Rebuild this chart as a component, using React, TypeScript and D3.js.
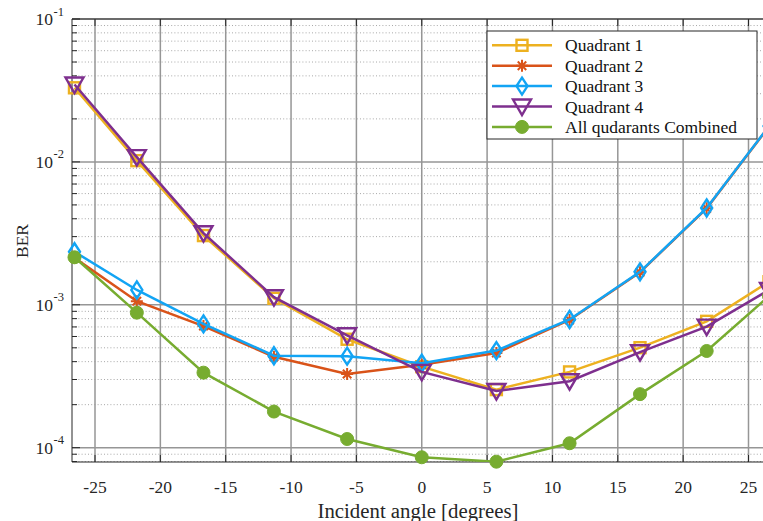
import React from "react";
import * as d3 from "d3";

const angles = [-26.57, -21.8, -16.7, -11.31, -5.71, 0, 5.71, 11.31, 16.7, 21.8, 26.57];
const quadrant1 = [0.033, 0.0102, 0.00305, 0.00111, 0.000574, 0.000369, 0.000255, 0.000339, 0.000501, 0.000766, 0.00145];
const quadrant2 = [0.00213, 0.00106, 0.00071, 0.000433, 0.000328, 0.00038, 0.00046, 0.000783, 0.00169, 0.00473, 0.0177];
const quadrant3 = [0.00235, 0.00127, 0.000735, 0.00044, 0.000437, 0.00039, 0.000478, 0.00079, 0.0017, 0.00476, 0.0178];
const quadrant4 = [0.0348, 0.0108, 0.00317, 0.00113, 0.000612, 0.000339, 0.000249, 0.000292, 0.000466, 0.000703, 0.00127];
const combined = [0.00215, 0.000881, 0.000335, 0.000179, 0.000115, 0.0000857, 0.0000798, 0.0001074, 0.000237, 0.000475, 0.00115];

const xTicks = [-25, -20, -15, -10, -5, 0, 5, 10, 15, 20, 25];
const yDecades = [-4, -3, -2, -1];

const seriesNames = ["Quadrant 1", "Quadrant 2", "Quadrant 3", "Quadrant 4", "All qudarants Combined"];
const seriesColors = ["#EDB120", "#D95319", "#12A4F4", "#7E2F8E", "#77AC30"];
const seriesMarkers = ["square", "asterisk", "diamond", "triangle", "circle"];

const W = 763, H = 521;
const L = 72, T = 19, B = 462, R = 771.5;
const FONT = "'Liberation Serif', 'DejaVu Serif', serif";

function Marker({ kind, x, y, color }: { kind: string; x: number; y: number; color: string }) {
  const sw = 2.4;
  if (kind === "square") {
    return <rect x={x - 5.5} y={y - 5.5} width={11} height={11} fill="none" stroke={color} strokeWidth={sw} />;
  }
  if (kind === "diamond") {
    return <path d={`M${x},${y - 8.5}L${x + 5.5},${y}L${x},${y + 8.5}L${x - 5.5},${y}Z`} fill="none" stroke={color} strokeWidth={sw} />;
  }
  if (kind === "triangle") {
    return <path d={`M${x - 9},${y - 7}L${x + 9},${y - 7}L${x},${y + 8.5}Z`} fill="none" stroke={color} strokeWidth={sw} strokeLinejoin="miter" />;
  }
  if (kind === "circle") {
    return <circle cx={x} cy={y} r={6.5} fill={color} stroke={color} strokeWidth={1} />;
  }
  const r = 6;
  const d = r * 0.707;
  return (
    <path
      d={`M${x - r},${y}L${x + r},${y}M${x},${y - r}L${x},${y + r}M${x - d},${y - d}L${x + d},${y + d}M${x - d},${y + d}L${x + d},${y - d}`}
      stroke={color}
      strokeWidth={2}
      fill="none"
    />
  );
}

export default function App() {
  const x = d3.scaleLinear().domain([-26.76, 26.76]).range([L, R]);
  const y = d3.scaleLog().domain([7.94e-5, 0.1]).range([B, T]);
  const series = [quadrant1, quadrant2, quadrant3, quadrant4, combined];

  const line = d3
    .line<number>()
    .x((_, i) => x(angles[i]))
    .y((v) => y(v));

  const minorVals: number[] = [];
  for (let e = -5; e <= -2; e++) {
    for (let m = 2; m <= 9; m++) {
      const v = m * Math.pow(10, e);
      if (v > 7.94e-5 && v < 0.1) minorVals.push(v);
    }
  }

  const legX = 487, legY = 31, legW = 270, legH = 108;
  const rowY = (i: number) => 45.3 + i * 20.4;

  return (
    <svg width={W} height={H} style={{ position: "absolute", left: 0, top: 0 }} fontFamily={FONT}>
      <rect x={0} y={0} width={W} height={H} fill="#fff" />
      <defs>
        <clipPath id="plotclip">
          <rect x={L} y={T} width={R - L} height={B - T} />
        </clipPath>
      </defs>
      {minorVals.map((v, i) => (
        <line key={"mg" + i} x1={L} x2={R} y1={y(v)} y2={y(v)} stroke="#a8a8a8" strokeWidth={1} strokeDasharray="1,2.2" />
      ))}
      {yDecades.map((e) => (
        <line key={"yg" + e} x1={L} x2={R} y1={y(Math.pow(10, e))} y2={y(Math.pow(10, e))} stroke="#969696" strokeWidth={1.5} />
      ))}
      {xTicks.map((t) => (
        <line key={"xg" + t} x1={x(t)} x2={x(t)} y1={T} y2={B} stroke="#969696" strokeWidth={1.5} />
      ))}
      <line x1={L} x2={R} y1={T} y2={T} stroke="#262626" strokeWidth={1} />
      <line x1={L} x2={R} y1={B} y2={B} stroke="#262626" strokeWidth={1} />
      <line x1={L} x2={L} y1={T} y2={B} stroke="#262626" strokeWidth={1} />
      {xTicks.map((t) => (
        <g key={"xt" + t}>
          <line x1={x(t)} x2={x(t)} y1={B} y2={B - 7} stroke="#262626" strokeWidth={1} />
          <line x1={x(t)} x2={x(t)} y1={T} y2={T + 7} stroke="#262626" strokeWidth={1} />
          <text x={x(t)} y={493} textAnchor="middle" fontSize={17.5} fill="#262626">
            {t}
          </text>
        </g>
      ))}
      {yDecades.map((e) => (
        <g key={"yt" + e}>
          <line x1={L} x2={L + 8} y1={y(Math.pow(10, e))} y2={y(Math.pow(10, e))} stroke="#262626" strokeWidth={1} />
          <text x={53} y={y(Math.pow(10, e)) + 6} textAnchor="end" fontSize={17.5} fill="#262626">
            10
          </text>
          <text x={53.5} y={y(Math.pow(10, e)) - 3.5} textAnchor="start" fontSize={12.5} fill="#262626">
            {String(e)}
          </text>
        </g>
      ))}
      {minorVals.map((v, i) => (
        <line key={"mt" + i} x1={L} x2={L + 5} y1={y(v)} y2={y(v)} stroke="#262626" strokeWidth={1} />
      ))}
      <text x={418} y={518} textAnchor="middle" fontSize={20.8} fill="#262626">
        Incident angle [degrees]
      </text>
      <text transform={`translate(28,241) rotate(-90)`} textAnchor="middle" fontSize={17.5} fill="#262626">
        BER
      </text>
      {series.map((s, si) => (
        <g key={"s" + si}>
          <path d={line(s) || ""} fill="none" stroke={seriesColors[si]} strokeWidth={2.5} clipPath="url(#plotclip)" />
          {s.map((v, i) => (
            <Marker key={i} kind={seriesMarkers[si]} x={x(angles[i])} y={y(v)} color={seriesColors[si]} />
          ))}
        </g>
      ))}
      <rect x={legX} y={legY} width={legW} height={legH} fill="#fff" stroke="#262626" strokeWidth={1} />
      {seriesNames.map((n, i) => (
        <g key={"lg" + i}>
          <line x1={492} x2={552} y1={rowY(i)} y2={rowY(i)} stroke={seriesColors[i]} strokeWidth={2.5} />
          <Marker kind={seriesMarkers[i]} x={522} y={rowY(i)} color={seriesColors[i]} />
          <text x={565} y={rowY(i) + 6} fontSize={17.5} fill="#111">
            {n}
          </text>
        </g>
      ))}
    </svg>
  );
}
